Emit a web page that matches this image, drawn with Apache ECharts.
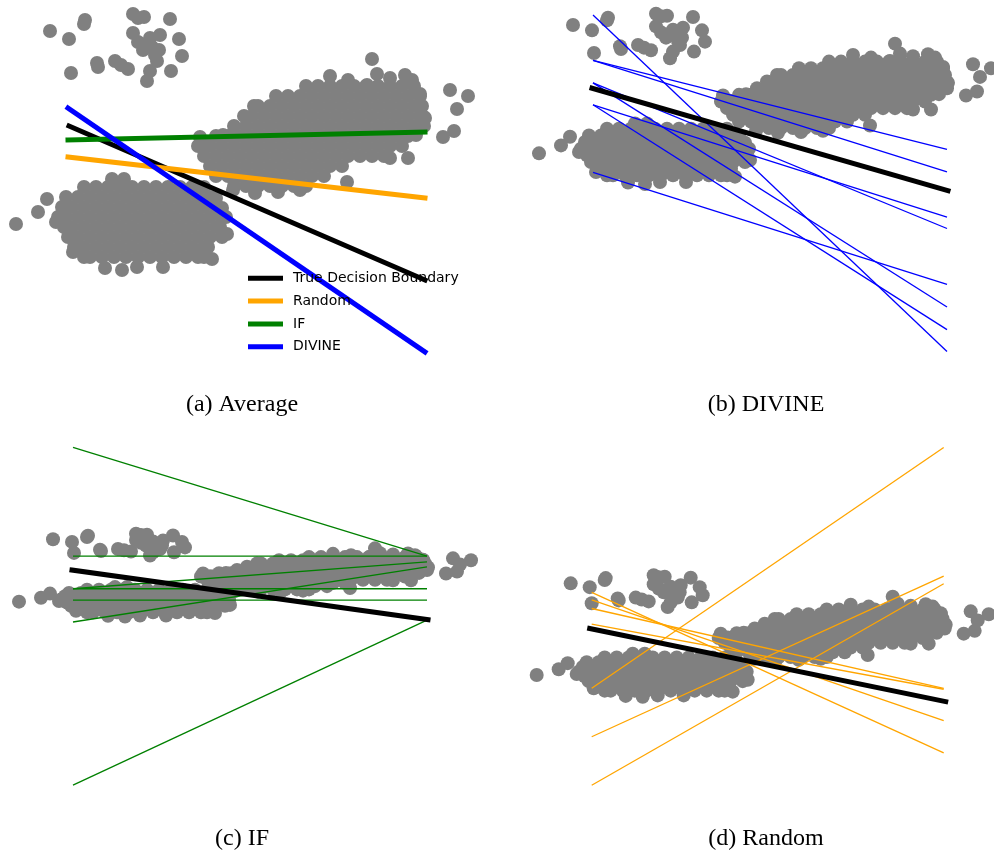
<!DOCTYPE html>
<html><head><meta charset="utf-8">
<script src="https://cdn.jsdelivr.net/npm/echarts@6/dist/echarts.min.js"></script>
<style>html,body{margin:0;padding:0;background:#fff;} #chart{width:994px;height:851px;}</style>
</head><body><div id="chart"></div>
<script>
// ---------- DATA (shared sample) ----------
const clusterSmall = [
  [5.0,26.9],[6.9,26.1],[8.5,28.0],[8.4,27.6],[7.1,22.7],[9.7,23.7],[9.8,23.3],[11.5,23.9],[12.1,23.5],[12.8,23.1],
  [13.3,28.6],[13.8,28.2],[14.4,28.3],[17.0,28.1],[13.3,26.7],[13.8,25.8],[15.0,26.2],[16.0,26.5],[14.3,25.0],[15.2,25.3],
  [15.9,25.0],[15.7,23.9],[15.0,22.9],[14.7,21.9],[17.1,22.9],[17.9,26.1],[18.2,24.4],[14.5,25.5],[15.5,24.5]
];
const clusterLower = [
  [11.2,12.1],[12.4,12.1],
  [8.4,11.3],[9.6,11.3],[10.8,11.3],[12.0,11.3],[13.2,11.3],[14.4,11.3],[15.6,11.3],[16.8,11.3],[18.0,11.3],[19.2,11.3],[20.4,11.3],
  [6.6,10.3],[7.8,10.3],[9.0,10.3],[10.2,10.3],[11.4,10.3],[12.6,10.3],[13.8,10.3],[15.0,10.3],[16.2,10.3],[17.4,10.3],[18.6,10.3],[19.8,10.3],[21.0,10.3],[21.6,10.2],
  [6.2,9.3],[7.2,9.3],[8.4,9.3],[9.6,9.3],[10.8,9.3],[12.0,9.3],[13.2,9.3],[14.4,9.3],[15.6,9.3],[16.8,9.3],[18.0,9.3],[19.2,9.3],[20.4,9.3],[21.6,9.3],[22.2,9.2],
  [5.8,8.3],[6.6,8.3],[7.8,8.3],[9.0,8.3],[10.2,8.3],[11.4,8.3],[12.6,8.3],[13.8,8.3],[15.0,8.3],[16.2,8.3],[17.4,8.3],[18.6,8.3],[19.8,8.3],[21.0,8.3],[22.2,8.3],[22.6,8.3],
  [6.4,7.3],[7.2,7.3],[8.4,7.3],[9.6,7.3],[10.8,7.3],[12.0,7.3],[13.2,7.3],[14.4,7.3],[15.6,7.3],[16.8,7.3],[18.0,7.3],[19.2,7.3],[20.4,7.3],[21.6,7.3],[22.0,7.3],
  [6.8,6.3],[7.8,6.3],[9.0,6.3],[10.2,6.3],[11.4,6.3],[12.6,6.3],[13.8,6.3],[15.0,6.3],[16.2,6.3],[17.4,6.3],[18.6,6.3],[19.8,6.3],[21.0,6.3],[22.2,6.3],
  [7.4,5.3],[8.4,5.3],[9.6,5.3],[10.8,5.3],[12.0,5.3],[13.2,5.3],[14.4,5.3],[15.6,5.3],[16.8,5.3],[18.0,5.3],[19.2,5.3],[20.4,5.3],[20.8,5.3],
  [8.4,4.3],[9.0,4.3],[10.2,4.3],[11.4,4.3],[12.6,4.3],[13.8,4.3],[15.0,4.3],[16.2,4.3],[17.4,4.3],[18.6,4.3],[19.8,4.3],[20.4,4.3],
  [10.5,3.2],[12.2,3.0],[13.7,3.3],[16.3,3.3],[19.8,4.5],[21.2,4.1],[7.3,4.8],[22.7,6.6]
];
const clusterUpper = [
  [33.0,22.4],[34.8,22.0],[36.7,21.5],[39.0,22.2],[40.5,22.5],[41.2,22.0],
  [30.6,21.4],[31.8,21.4],[33.0,21.4],[34.2,21.4],[35.4,21.4],[36.6,21.4],[37.8,21.4],[39.0,21.4],[40.2,21.4],[41.4,21.4],
  [27.6,20.4],[28.8,20.4],[30.0,20.4],[31.2,20.4],[32.4,20.4],[33.6,20.4],[34.8,20.4],[36.0,20.4],[37.2,20.4],[38.4,20.4],[39.6,20.4],[40.8,20.4],[42.0,20.4],
  [25.4,19.4],[25.8,19.4],[27.0,19.4],[28.2,19.4],[29.4,19.4],[30.6,19.4],[31.8,19.4],[33.0,19.4],[34.2,19.4],[35.4,19.4],[36.6,19.4],[37.8,19.4],[39.0,19.4],[40.2,19.4],[41.4,19.4],[42.2,19.4],
  [24.4,18.4],[25.2,18.4],[26.4,18.4],[27.6,18.4],[28.8,18.4],[30.0,18.4],[31.2,18.4],[32.4,18.4],[33.6,18.4],[34.8,18.4],[36.0,18.4],[37.2,18.4],[38.4,18.4],[39.6,18.4],[40.8,18.4],[42.0,18.4],[42.4,18.3],
  [23.4,17.4],[24.6,17.4],[25.8,17.4],[27.0,17.4],[28.2,17.4],[29.4,17.4],[30.6,17.4],[31.8,17.4],[33.0,17.4],[34.2,17.4],[35.4,17.4],[36.6,17.4],[37.8,17.4],[39.0,17.4],[40.2,17.4],[41.4,17.4],[42.4,17.4],
  [21.6,16.4],[22.8,16.4],[24.0,16.4],[25.2,16.4],[26.4,16.4],[27.6,16.4],[28.8,16.4],[30.0,16.4],[31.2,16.4],[32.4,16.4],[33.6,16.4],[34.8,16.4],[36.0,16.4],[37.2,16.4],[38.4,16.4],[39.6,16.4],[40.8,16.4],[41.6,16.5],
  [19.8,15.4],[21.0,15.4],[22.2,15.4],[23.4,15.4],[24.6,15.4],[25.8,15.4],[27.0,15.4],[28.2,15.4],[29.4,15.4],[30.6,15.4],[31.8,15.4],[33.0,15.4],[34.2,15.4],[35.4,15.4],[36.6,15.4],[37.8,15.4],[39.0,15.4],[40.2,15.4],
  [20.4,14.4],[21.6,14.4],[22.8,14.4],[24.0,14.4],[25.2,14.4],[26.4,14.4],[27.6,14.4],[28.8,14.4],[30.0,14.4],[31.2,14.4],[32.4,14.4],[33.6,14.4],[34.8,14.4],[36.0,14.4],[37.2,14.4],[38.4,14.4],
  [21.0,13.4],[22.2,13.4],[23.4,13.4],[24.6,13.4],[25.8,13.4],[27.0,13.4],[28.2,13.4],[29.4,13.4],[30.6,13.4],[31.8,13.4],[33.0,13.4],[34.2,13.4],
  [21.6,12.4],[22.8,12.4],[24.0,12.4],[25.2,12.4],[26.4,12.4],[27.6,12.4],[28.8,12.4],[30.0,12.4],[31.2,12.4],[32.4,12.4],
  [23.4,11.4],[24.6,11.4],[25.8,11.4],[27.0,11.4],[28.2,11.4],[29.4,11.4],[30.6,11.4],
  [23.3,11.0],[25.5,10.7],[27.8,10.8],[30.0,11.0]
];
const outliers = [
  [1.6,7.6],[3.8,8.8],[4.7,10.1],[5.6,7.8],
  [37.2,24.1],[37.7,22.6],[45.0,21.0],[46.8,20.4],[45.7,19.1],[45.4,16.9],[44.3,16.3],[42.0,20.6],
  [40.8,14.2],[39.0,14.2],[34.7,11.8],[42.5,18.2],[20.0,16.3],[20.7,15.5],[22.3,16.5]
];

// lines: [[x0,y0],[x1,y1]]
const trueBoundary = [[6.9,17.4],[42.5,2.0]];
const randomAvg = [[6.8,14.3],[42.5,10.2]];
const ifAvg = [[6.8,16.0],[42.5,16.8]];
const divineAvg = [[6.8,19.2],[42.5,-5.2]];
const divineLines = [
  [[7.0,28.4],[42.4,-22.2]],
  [[7.0,21.6],[42.4,8.2]],
  [[7.0,21.6],[42.4,4.8]],
  [[7.0,18.2],[42.4,-3.7]],
  [[7.0,18.2],[42.4,-15.5]],
  [[7.0,14.9],[42.4,-2.0]],
  [[7.0,14.9],[42.4,-18.9]],
  [[7.0,4.75],[42.4,-12.1]]
];
const ifLines = [
  [[7.0,55.4],[42.4,21.7]],
  [[7.0,21.7],[42.4,21.7]],
  [[7.0,11.6],[42.4,19.9]],
  [[7.0,1.3],[42.4,18.4]],
  [[7.0,11.6],[42.4,11.6]],
  [[7.0,8.1],[42.4,8.1]],
  [[7.0,-49.2],[42.4,1.9]]
];
const randomLines = [
  [[7.1,4.8],[42.3,55.5]],
  [[7.1,-5.4],[42.3,28.4]],
  [[7.1,-15.6],[42.3,26.8]],
  [[7.1,25.0],[42.3,-8.8]],
  [[7.1,23.4],[42.3,-2.0]],
  [[7.1,21.6],[42.3,4.8]],
  [[7.1,18.3],[42.3,4.6]]
];
const legendNames = ['True Decision Boundary','Random','IF','DIVINE'];
const captions = ['(a) Average','(b) DIVINE','(c) IF','(d) Random'];

// ---------- LAYOUT ----------
const panels = [
  {left:0, top:0, width:450, height:400},
  {left:523, top:4.4, width:450, height:266},
  {left:3, top:529.3, width:450, height:129.2},
  {left:520.7, top:568.6, width:450, height:190}
];
const captionPos = [[242,405],[766,405],[242,839],[766,839]];
const COLORS = {black:'#000000', orange:'#FFA500', green:'#008000', blue:'#0000FF', gray:'#808080'};

const chart = echarts.init(document.getElementById('chart'), null, {renderer:'canvas'});
const allPoints = clusterSmall.concat(clusterLower, clusterUpper, outliers);

const grid = [], xAxis = [], yAxis = [], series = [];
panels.forEach((p, i) => {
  grid.push({left:p.left, top:p.top, width:p.width, height:p.height, containLabel:false});
  xAxis.push({type:'value', gridIndex:i, min:0, max:45, show:false});
  yAxis.push({type:'value', gridIndex:i, min:-10, max:30, show:false});
  series.push({type:'scatter', name:'points'+i, xAxisIndex:i, yAxisIndex:i, data:allPoints,
    symbol:'circle', symbolSize:14, itemStyle:{color:COLORS.gray, opacity:1}, clip:false, silent:true, z:1});
});
function addLine(name, pts, i, color, width) {
  series.push({type:'line', name:name, xAxisIndex:i, yAxisIndex:i, data:pts, symbol:'none',
    clip:false, silent:true, color:color, itemStyle:{color:color},
    lineStyle:{color:color, width:width, cap: width > 3 ? 'square' : 'butt'}, z:2});
}
// panel (a)
addLine(legendNames[0], trueBoundary, 0, COLORS.black, 5);
addLine(legendNames[1], randomAvg, 0, COLORS.orange, 5);
addLine(legendNames[2], ifAvg, 0, COLORS.green, 5);
addLine(legendNames[3], divineAvg, 0, COLORS.blue, 5);
// panel (b)
divineLines.forEach((l, k) => addLine('DIVINE run '+k, l, 1, COLORS.blue, 1.3));
addLine('True boundary b', trueBoundary, 1, COLORS.black, 5);
// panel (c)
ifLines.forEach((l, k) => addLine('IF run '+k, l, 2, COLORS.green, 1.3));
addLine('True boundary c', trueBoundary, 2, COLORS.black, 5);
// panel (d)
randomLines.forEach((l, k) => addLine('Random run '+k, l, 3, COLORS.orange, 1.3));
addLine('True boundary d', trueBoundary, 3, COLORS.black, 5);

const graphic = captions.map((t, i) => ({
  type:'text', x:captionPos[i][0], y:captionPos[i][1], silent:true,
  style:{text:t, fill:'#000', fontFamily:'Liberation Serif', fontSize:24, align:'center', verticalAlign:'middle'}
}));

chart.setOption({
  animation:false,
  backgroundColor:'#ffffff',
  grid, xAxis, yAxis, series, graphic,
  legend:{
    data:legendNames, orient:'vertical', left:248, top:270.3, padding:0, itemWidth:35, itemHeight:5, itemGap:6.8,
    icon:'rect', selectedMode:false,
    textStyle:{fontFamily:'DejaVu Sans', fontSize:14, color:'#000', lineHeight:16, padding:[0,0,0,5]}
  }
});
</script>
</body></html>
